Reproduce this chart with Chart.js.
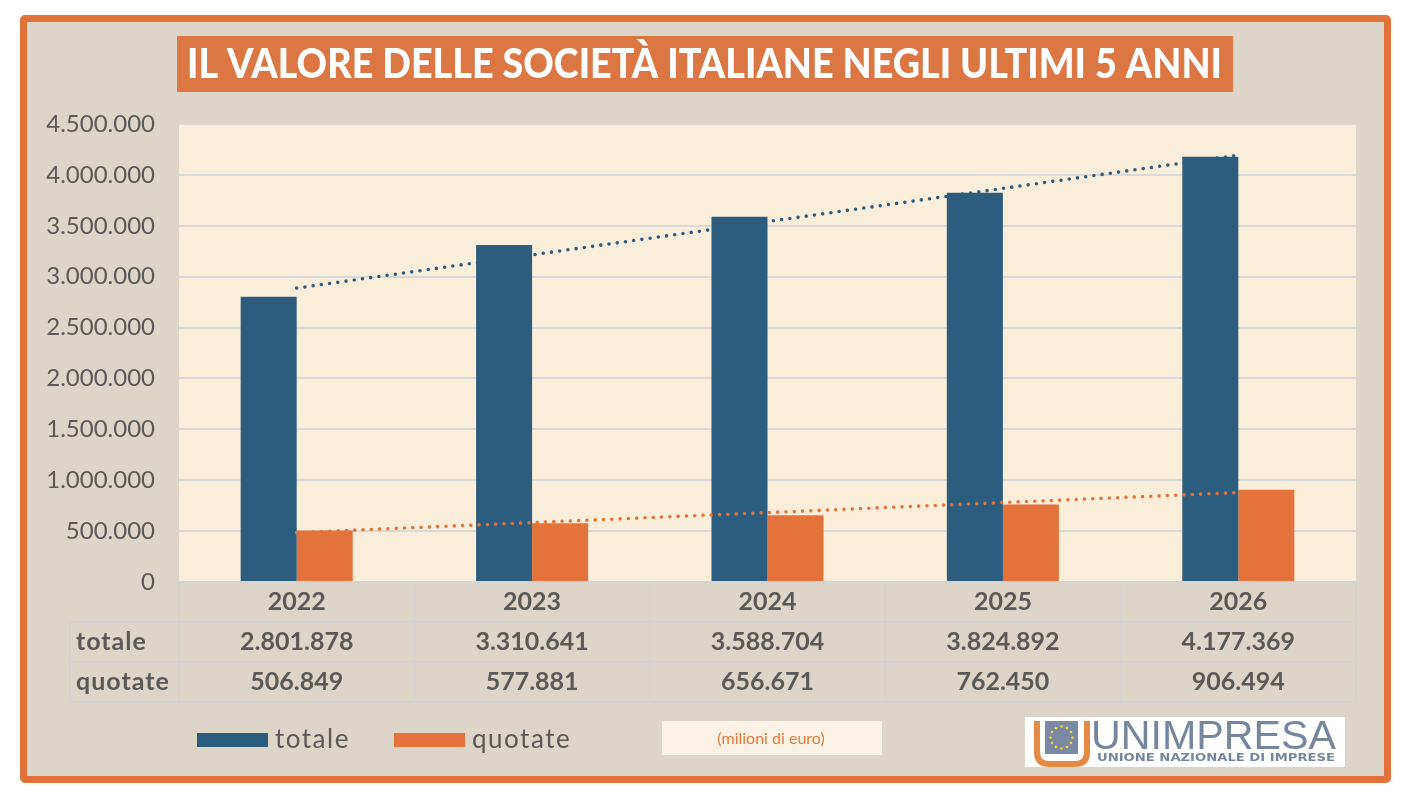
<!DOCTYPE html>
<html>
<head>
<meta charset="utf-8">
<script src="https://cdn.jsdelivr.net/npm/chart.js@4.4.1/dist/chart.umd.min.js"></script>
<style>
    body { margin: 0; background: #ffffff; }
    #frame {
        position: absolute; left: 20px; top: 15px;
        width: 1357px; height: 754px;
        border: 7px solid #e2723a; border-radius: 5px;
        background: #ddd5c8;
    }
    #valueChart { position: absolute; left: 0; top: 0; }
</style>
</head>
<body>
<div id="frame"></div>
<canvas id="valueChart" width="1418" height="804"></canvas>
<script>
// Chart data
const years = ['2022', '2023', '2024', '2025', '2026'];
const totale = [2801878, 3310641, 3588704, 3824892, 4177369];
const quotate = [506849, 577881, 656671, 762450, 906494];
// dotted trend lines, read at each year
const trendTotale = [2887650, 3214170, 3540700, 3867220, 4193740];
const trendQuotate = [485300, 583680, 682070, 780460, 878840];
// y axis
const yMax = 4500000;
const yStep = 500000;

const titleText = 'IL VALORE DELLE SOCIETÀ ITALIANE NEGLI ULTIMI 5 ANNI';
const unitText = '(milioni di euro)';

const BLUE = '#2d5d7e';
const ORANGE = '#e3733a';
const TEXT = '#595959';
const LINE = '#d5d3d0';

// Italian style thousands separator
function formatIt(value) {
    return String(Math.round(value)).replace(/\B(?=(\d{3})+(?!\d))/g, '.');
}

// Draws the cream plot area and the title box
const backdropPlugin = {
    id: 'backdrop',
    beforeDraw(chart) {
        const { ctx, chartArea: a } = chart;
        ctx.save();
        ctx.fillStyle = '#faeedb';
        ctx.fillRect(a.left, a.top, a.right - a.left, a.bottom - a.top);

        // title
        ctx.fillStyle = '#dc7744';
        ctx.fillRect(177, 36, 1056, 56);
        ctx.font = '900 41px Lato';
        ctx.fillStyle = '#ffffff';
        ctx.textBaseline = 'middle';
        ctx.textAlign = 'left';
        const w = ctx.measureText(titleText).width;
        const target = 1035;
        ctx.translate(187, 65);
        ctx.scale(target / w, 1);
        ctx.fillText(titleText, 0, 0);
        ctx.restore();
    }
};

// Data table under the plot, legend, unit note and logo
const tablePlugin = {
    id: 'dataTable',
    afterDraw(chart) {
        const { ctx, chartArea: a } = chart;
        const xScale = chart.scales.x;
        const colW = (a.right - a.left) / years.length;
        const rowH = 40;
        const labelLeft = 70;
        const top = a.bottom;

        ctx.save();
        ctx.strokeStyle = LINE;
        ctx.lineWidth = 2;
        ctx.beginPath();
        // horizontal lines
        ctx.moveTo(a.left, top); ctx.lineTo(a.right, top);
        for (let r = 1; r <= 3; r++) {
            ctx.moveTo(labelLeft, top + r * rowH);
            ctx.lineTo(a.right, top + r * rowH);
        }
        // vertical lines
        for (let c = 0; c <= years.length; c++) {
            const x = a.left + c * colW;
            ctx.moveTo(x, top);
            ctx.lineTo(x, top + 3 * rowH);
        }
        ctx.moveTo(labelLeft, top + rowH);
        ctx.lineTo(labelLeft, top + 3 * rowH);
        ctx.stroke();

        // row values
        const rows = [
            { label: chart.data.datasets[0].label, values: totale },
            { label: chart.data.datasets[1].label, values: quotate }
        ];
        ctx.font = 'bold 25px Lato';
        ctx.fillStyle = TEXT;
        ctx.textBaseline = 'middle';
        rows.forEach((row, r) => {
            const cy = top + rowH * (r + 1.5);
            ctx.textAlign = 'left';
            ctx.letterSpacing = '1px';
            ctx.fillText(row.label, 76, cy);
            ctx.letterSpacing = '0px';
            ctx.textAlign = 'center';
            row.values.forEach((v, i) => {
                ctx.fillText(formatIt(v), xScale.getPixelForValue(i), cy);
            });
        });

        // legend
        const legendItems = [
            { x: 197, ds: chart.data.datasets[0] },
            { x: 394, ds: chart.data.datasets[1] }
        ];
        ctx.font = '26px Lato';
        ctx.letterSpacing = '1.5px';
        ctx.textAlign = 'left';
        legendItems.forEach(item => {
            ctx.fillStyle = item.ds.backgroundColor;
            ctx.fillRect(item.x, 733, 71, 14);
            ctx.fillStyle = TEXT;
            ctx.fillText(item.ds.label, item.x + 78, 740);
        });
        ctx.letterSpacing = '0px';

        // unit note
        ctx.fillStyle = '#fcf1e5';
        ctx.fillRect(662, 721, 220, 34);
        ctx.fillStyle = '#e47a3c';
        ctx.font = '16px Lato';
        ctx.textAlign = 'center';
        ctx.fillText(unitText, 771, 739);

        drawLogo(ctx);
        ctx.restore();
    }
};

function drawLogo(ctx) {
    ctx.save();
    ctx.fillStyle = '#ffffff';
    ctx.fillRect(1025, 717, 320, 50);

    // orange U
    ctx.strokeStyle = '#e58a45';
    ctx.lineWidth = 6;
    ctx.beginPath();
    ctx.moveTo(1037, 721);
    ctx.lineTo(1037, 752);
    ctx.quadraticCurveTo(1037, 764, 1049, 764);
    ctx.lineTo(1075, 764);
    ctx.quadraticCurveTo(1087, 764, 1087, 752);
    ctx.lineTo(1087, 721);
    ctx.stroke();

    // blue square with stars
    ctx.fillStyle = '#7b8aa2';
    ctx.fillRect(1045, 721, 33, 33);
    ctx.fillStyle = '#f4d23c';
    for (let i = 0; i < 12; i++) {
        const ang = i * Math.PI / 6;
        ctx.beginPath();
        ctx.arc(1061.5 + 11 * Math.cos(ang), 737.5 + 11 * Math.sin(ang), 1.3, 0, Math.PI * 2);
        ctx.fill();
    }

    ctx.fillStyle = '#76869e';
    ctx.textBaseline = 'alphabetic';
    ctx.textAlign = 'left';
    ctx.font = '40px "Liberation Sans Narrow", "Liberation Sans"';
    const big = 'UNIMPRESA';
    const bw = ctx.measureText(big).width;
    ctx.save();
    ctx.translate(1091, 749);
    ctx.scale(245 / bw, 1);
    ctx.fillText(big, 0, 0);
    ctx.restore();

    ctx.font = 'bold 10px "DejaVu Sans"';
    const small = 'UNIONE NAZIONALE DI IMPRESE';
    const sw = ctx.measureText(small).width;
    ctx.save();
    ctx.translate(1097, 761);
    ctx.scale(238 / sw, 1);
    ctx.fillText(small, 0, 0);
    ctx.restore();
    ctx.restore();
}

const ctx = document.getElementById('valueChart').getContext('2d');
const valueChart = new Chart(ctx, {
    type: 'bar',
    data: {
        labels: years,
        datasets: [{
            label: 'totale',
            data: totale,
            backgroundColor: BLUE,
            order: 2,
            categoryPercentage: 0.476,
            barPercentage: 1
        }, {
            label: 'quotate',
            data: quotate,
            backgroundColor: ORANGE,
            order: 2,
            categoryPercentage: 0.476,
            barPercentage: 1
        }, {
            type: 'line',
            label: 'trend totale',
            data: trendTotale,
            borderColor: BLUE,
            borderWidth: 3.6,
            borderDash: [0, 8.3],
            borderCapStyle: 'round',
            pointRadius: 0,
            order: 1
        }, {
            type: 'line',
            label: 'trend quotate',
            data: trendQuotate,
            borderColor: ORANGE,
            borderWidth: 3.6,
            borderDash: [0, 8.3],
            borderCapStyle: 'round',
            pointRadius: 0,
            order: 1
        }]
    },
    options: {
        responsive: false,
        animation: false,
        layout: {
            padding: { left: 0, right: 62, top: 124, bottom: 182 }
        },
        scales: {
            x: {
                afterFit(scale) { scale.height = 40; },
                grid: { display: false, drawTicks: false },
                border: { display: false },
                ticks: {
                    color: TEXT,
                    font: { family: 'Lato', size: 25, weight: 'bold' },
                    padding: 5
                }
            },
            y: {
                min: 0,
                max: yMax,
                afterFit(scale) { scale.width = 179; },
                grid: { color: '#d9d9d9', lineWidth: 2, drawTicks: false },
                border: { display: false },
                ticks: {
                    stepSize: yStep,
                    color: TEXT,
                    padding: 24,
                    font: { family: 'Lato', size: 24 },
                    callback: function (value) {
                        return formatIt(value);
                    }
                }
            }
        },
        plugins: {
            legend: { display: false },
            tooltip: { enabled: false }
        }
    },
    plugins: [backdropPlugin, tablePlugin]
});
</script>
</body>
</html>
